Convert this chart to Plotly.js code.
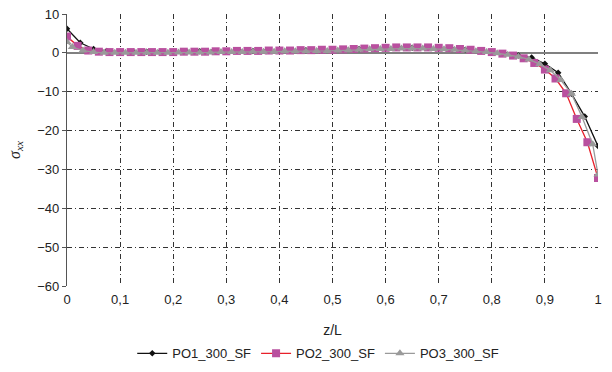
<!DOCTYPE html>
<html>
<head>
<meta charset="utf-8">
<script src="https://cdn.plot.ly/plotly-3.0.1.min.js"></script>
<style>html,body{margin:0;padding:0;background:#fff}#chart{width:612px;height:372px}</style>
</head>
<body>
<div id="chart"></div>
<script>
const po1X = [0,0.025,0.05,0.075,0.1,0.125,0.15,0.175,0.2,0.225,0.25,0.275,0.3,0.325,0.35,0.375,0.4,0.425,0.45,0.475,0.5,0.525,0.55,0.575,0.6,0.625,0.65,0.675,0.7,0.725,0.75,0.775,0.8,0.825,0.85,0.875,0.9,0.925,0.95,0.975,1];
const po1Y = [6.2,2.6,1.0,0.5,0.3,0.3,0.3,0.3,0.3,0.3,0.4,0.4,0.4,0.5,0.5,0.5,0.6,0.6,0.7,0.7,0.8,0.9,1.0,1.1,1.2,1.3,1.3,1.3,1.2,1.0,0.8,0.5,0.1,-0.3,-0.7,-1.2,-2.8,-5.1,-10.5,-16.4,-24.0];

const po2X = [0,0.02,0.04,0.06,0.08,0.1,0.12,0.14,0.16,0.18,0.2,0.22,0.24,0.26,0.28,0.3,0.32,0.34,0.36,0.38,0.4,0.42,0.44,0.46,0.48,0.5,0.52,0.54,0.56,0.58,0.6,0.62,0.64,0.66,0.68,0.7,0.72,0.74,0.76,0.78,0.8,0.82,0.84,0.86,0.88,0.9,0.92,0.94,0.96,0.98,1];
const po2Y = [4.2,1.8,0.6,0.3,0.2,0.2,0.2,0.2,0.2,0.2,0.2,0.3,0.3,0.3,0.4,0.4,0.5,0.5,0.5,0.6,0.6,0.6,0.7,0.7,0.8,0.8,0.9,1.0,1.1,1.2,1.3,1.4,1.4,1.4,1.4,1.3,1.2,1.0,0.8,0.5,0.2,-0.2,-0.7,-1.4,-2.6,-4.3,-6.6,-10.4,-17.0,-23.0,-32.2];

const po3X = [0,0.01,0.03,0.05,0.07,0.09,0.11,0.13,0.15,0.17,0.19,0.21,0.23,0.25,0.27,0.29,0.31,0.33,0.35,0.37,0.39,0.41,0.43,0.45,0.47,0.49,0.51,0.53,0.55,0.57,0.59,0.61,0.63,0.65,0.67,0.69,0.71,0.73,0.75,0.77,0.79,0.81,0.83,0.85,0.87,0.89,0.91,0.93,0.95,0.97,0.99,1];
const po3Y = [2.8,1.5,0.6,0.2,0.0,0.0,0.0,0.0,0.0,0.0,0.0,0.1,0.1,0.1,0.1,0.2,0.2,0.2,0.3,0.3,0.3,0.4,0.4,0.4,0.5,0.5,0.6,0.7,0.8,0.9,1.0,1.0,1.1,1.1,1.1,1.0,0.9,0.8,0.6,0.4,0.2,-0.1,-0.5,-1.0,-1.7,-2.9,-4.5,-7.0,-10.5,-16.5,-23.5,-31.3];

const seriesNames = ['PO1_300_SF','PO2_300_SF','PO3_300_SF'];
const xTickVals = [0,0.1,0.2,0.3,0.4,0.5,0.6,0.7,0.8,0.9,1];
const xTickText = ['0','0,1','0,2','0,3','0,4','0,5','0,6','0,7','0,8','0,9','1'];
const yTickVals = [10,0,-10,-20,-30,-40,-50,-60];

const traces = [
  {x: po1X, y: po1Y, name: seriesNames[0], type: 'scatter', mode: 'lines+markers',
   line: {color: '#111111', width: 1.3},
   marker: {symbol: 'diamond', size: 5, color: '#111111'}},
  {x: po2X, y: po2Y, name: seriesNames[1], type: 'scatter', mode: 'lines+markers',
   line: {color: '#e8202a', width: 1.3},
   marker: {symbol: 'square', size: 8, color: '#b9509f'}},
  {x: po3X, y: po3Y, name: seriesNames[2], type: 'scatter', mode: 'lines+markers',
   line: {color: '#9a9a9a', width: 1.3},
   marker: {symbol: 'triangle-up', size: 8, color: '#9a9a9a'}}
];

const layout = {
  width: 612, height: 372,
  margin: {l: 67, r: 14, t: 14, b: 86, autoexpand: false},
  paper_bgcolor: '#ffffff', plot_bgcolor: '#ffffff',
  font: {family: 'Liberation Sans, Arial, sans-serif', size: 13, color: '#222222'},
  showlegend: true,
  legend: {orientation: 'h', x: 0.52, xref: 'container', xanchor: 'center',
           y: 0.05, yref: 'container', yanchor: 'middle',
           font: {size: 13, color: '#222222'}, itemwidth: 30, tracegroupgap: 0},
  xaxis: {
    range: [0, 1], tickvals: xTickVals, ticktext: xTickText,
    showgrid: true, gridcolor: '#333333', griddash: '5px,3px,1px,3px', gridwidth: 1,
    zeroline: false, showline: false, ticks: '', ticklen: 0, ticklabelstandoff: 4,
    title: {text: 'z/L', font: {size: 14, color: '#222222'}, standoff: 20},
    tickfont: {size: 13, color: '#222222'}, fixedrange: true
  },
  yaxis: {
    range: [-60, 10], tickvals: yTickVals,
    showgrid: true, gridcolor: '#333333', griddash: '5px,3px,1px,3px', gridwidth: 1,
    zeroline: true, zerolinecolor: '#808080', zerolinewidth: 1.5,
    showline: true, linecolor: '#555555', linewidth: 1.2,
    ticks: 'outside', ticklen: 4, tickcolor: '#555555',
    title: {text: '<i>σ</i><sub><i>xx</i></sub>', font: {family: 'Liberation Serif, Times New Roman, serif', size: 16, color: '#222222'}, standoff: 12},
    tickfont: {size: 13, color: '#222222'}, fixedrange: true
  }
};

Plotly.newPlot('chart', traces, layout, {displayModeBar: false, staticPlot: true});
</script>
</body>
</html>
